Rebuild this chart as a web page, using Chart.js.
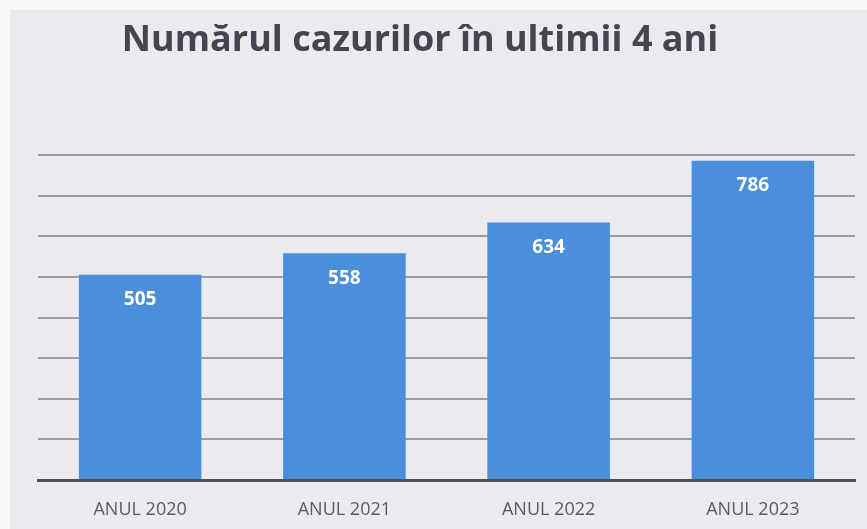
<!DOCTYPE html>
<html>
<head>
<meta charset="utf-8">
<script src="https://cdn.jsdelivr.net/npm/chart.js@4.4.1/dist/chart.umd.min.js"></script>
<style>
  html, body { margin: 0; padding: 0; background: #ebeaef; }
  #wrap { width: 867px; height: 529px; }
</style>
</head>
<body>
<div id="wrap"><canvas id="myChart" width="867" height="529"></canvas></div>
<script>
// datos del grafico
const categorias = ["ANUL 2020", "ANUL 2021", "ANUL 2022", "ANUL 2023"];
const cazuri = [505, 558, 634, 786];
const titlu = "Numărul cazurilor în ultimii 4 ani";

(() => {
    const ctx = document.getElementById('myChart').getContext('2d');

    // fondo gris como el escaneo, con borde blanco
    const fondo = {
        id: 'fondo',
        beforeDraw(chart) {
            const c = chart.ctx;
            c.save();
            c.fillStyle = '#f8f8fa';
            c.fillRect(0, 0, chart.width, chart.height);
            c.fillStyle = '#ebeaef';
            c.fillRect(10, 10, chart.width - 10, chart.height - 10);
            c.restore();
        },
        afterDraw(chart) {
            // titulo
            const c = chart.ctx;
            c.save();
            c.fillStyle = '#45454f';
            c.font = 'bold 36px "Open Sans", sans-serif';
            c.textAlign = 'center';
            c.textBaseline = 'alphabetic';
            c.fillText(titlu, 420, 51);
            c.restore();
        }
    };

    // etiquetas blancas dentro de cada barra
    const etiquetas = {
        id: 'etiquetas',
        afterDatasetsDraw(chart) {
            const c = chart.ctx;
            const meta = chart.getDatasetMeta(0);
            c.save();
            c.fillStyle = '#ffffff';
            c.font = 'bold 19px "Open Sans", sans-serif';
            c.textAlign = 'center';
            c.textBaseline = 'middle';
            meta.data.forEach((bar, i) => {
                c.fillText(String(cazuri[i]), bar.x, bar.y + 25);
            });
            c.restore();
        }
    };

    new Chart(ctx, {
        type: 'bar',
        data: {
            labels: categorias,
            datasets: [{
                data: cazuri,
                backgroundColor: '#4a8fd9',
                borderWidth: 0,
                barPercentage: 0.6,
                categoryPercentage: 1
            }]
        },
        options: {
            responsive: false,
            animation: false,
            layout: { padding: { left: 38, right: 12, top: 155, bottom: 0 } },
            plugins: {
                legend: { display: false },
                tooltip: { enabled: false },
                title: { display: false }
            },
            scales: {
                x: {
                    grid: { display: false, drawTicks: false },
                    border: { display: true, color: '#505058', width: 3 },
                    ticks: {
                        color: '#5a5a62',
                        padding: 19,
                        font: { family: '"Open Sans", sans-serif', size: 18 }
                    },
                    afterFit(axis) { axis.height = 49; }
                },
                y: {
                    min: 0,
                    max: 800,
                    ticks: { display: false, stepSize: 100 },
                    grid: { color: '#9d9ca2', lineWidth: 2, drawTicks: false },
                    border: { display: false }
                }
            }
        },
        plugins: [fondo, etiquetas]
    });
})();
</script>
</body>
</html>
